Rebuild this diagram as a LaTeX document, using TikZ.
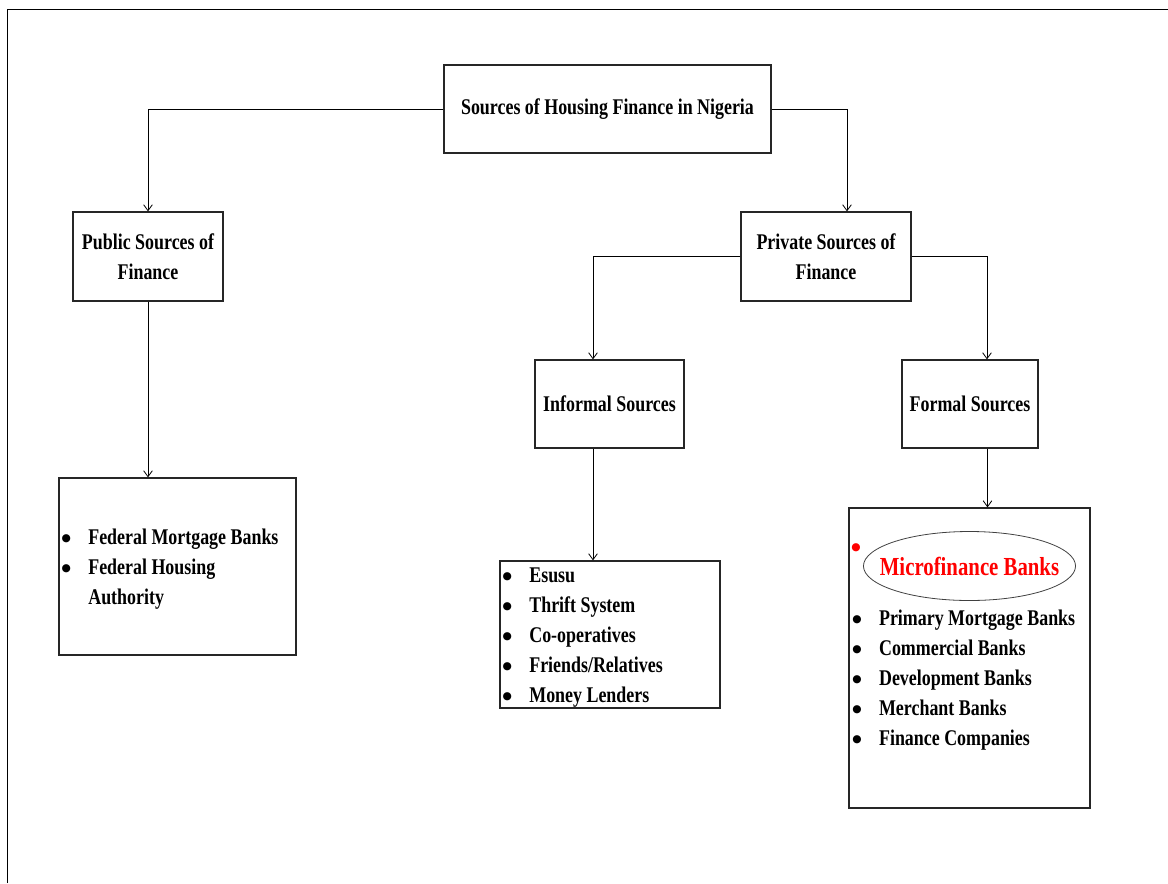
\documentclass[tikz,border=0pt]{standalone}
\usepackage{fontspec}
\setmainfont{Liberation Serif}[FakeStretch=0.8]
\newfontfamily\dejavu{DejaVu Sans}
\usetikzlibrary{positioning, arrows.meta, calc}
\usetikzlibrary{shapes.geometric}
\tikzset{
    box/.style={shape=rectangle,draw=black!85,line width=0.9pt,inner sep=2pt,align=center,
      font=\bfseries\fontsize{16.8}{22.5}\selectfont},
    listbox/.style={box,align=flush left,text width=#1,inner ysep=0pt},
    itemlist/.style={inner sep=0pt,align=flush left,font=\bfseries\fontsize{16.8}{22.5}\selectfont},
  }
\newcommand{\bulletdot}{\raisebox{2.2pt}{\dejavu\fontsize{8}{8}\selectfont ●}}
\newcommand{\itm}[1]{\makebox[20pt][l]{\bulletdot}#1}

\begin{document}
\begin{tikzpicture}[x=0.75pt,y=-0.75pt,>={Straight Barb[length=4.5pt,width=6.5pt]},line width=0.6pt]
    \useasboundingbox (0,0) rectangle (1168,883);
    % frame
    \draw[line width=1.1pt] (7.5,883) -- (7.5,9.5) -- (1168,9.5);
    % create the nodes
    \node[box,minimum width=245.25pt,minimum height=66pt] (top) at (607.5,109) {Sources of Housing Finance in Nigeria};
    \node[box,minimum width=112.5pt,minimum height=66.75pt] (public) at (148,256.5) {Public Sources of\\Finance};
    \node[box,minimum width=127.5pt,minimum height=66.75pt] (private) at (826,256.5) {Private Sources of\\Finance};
    \node[box,minimum width=111.75pt,minimum height=66pt] (informal) at (609.5,404) {Informal Sources};
    \node[box,minimum width=102pt,minimum height=66pt] (formal) at (970,404) {Formal Sources};
    % lists
    \node[listbox=173.75pt,minimum height=132.75pt] (publist) at (177.5,566.5)
      {\rule{0pt}{16pt}\itm{Federal Mortgage Banks}\\\itm{Federal Housing}\\\makebox[20pt]{}Authority};
    \node[listbox=161pt,minimum height=110.25pt] (inflist) at (610,634.5)
      {\rule{0pt}{16pt}\itm{Esusu}\\\itm{Thrift System}\\\itm{Co-operatives}\\\itm{Friends/Relatives}\\\itm{Money Lenders}};
    \node[box,minimum width=180.75pt,minimum height=225pt] (formlist) at (969.5,658) {};
    \node[ellipse,draw=black!75,line width=0.6pt,inner xsep=-11pt,inner ysep=0pt,minimum width=158.25pt,minimum height=51.75pt,
      text=red,font=\bfseries\fontsize{19.5}{22}\selectfont] (mfb) at (969.5,566) {Microfinance Banks};
    \node[itemlist,text=red] (mfbdot) at (856,549) {\bulletdot};
    \node[itemlist,anchor=west] (formitems) at (852,680.5)
      {\itm{Primary Mortgage Banks}\\\itm{Commercial Banks}\\\itm{Development Banks}\\\itm{Merchant Banks}\\\itm{Finance Companies}};
    % connectors
    \coordinate (infout) at ($(informal.south)+(-16.5,0)$);
    \coordinate (formout) at ($(formal.south)+(17.5,0)$);
    \draw[->] (top.west) -| (public.north);
    \draw[->] (top.east) -| ($(private.north)+(21,0)$);
    \draw[->] (public.south) -- (public.south |- publist.north);
    \draw[->] (private.west) -| ($(informal.north)+(-16.5,0)$);
    \draw[->] (private.east) -| ($(formal.north)+(17,0)$);
    \draw[->] (infout) -- (infout |- inflist.north);
    \draw[->] (formout) -- (formout |- formlist.north);
\end{tikzpicture}
\end{document}
